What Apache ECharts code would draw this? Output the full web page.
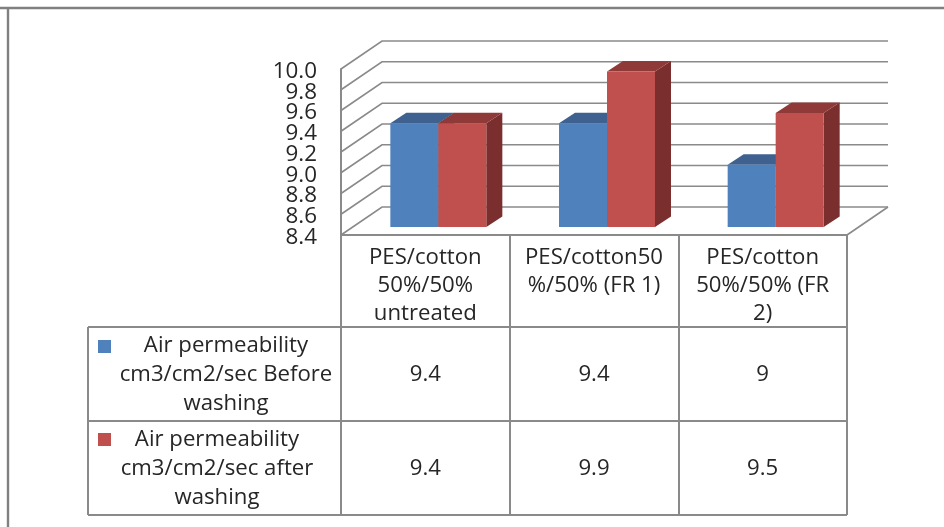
<!DOCTYPE html>
<html><head><meta charset="utf-8">
<style>html,body{margin:0;padding:0;background:#fff}#c{width:944px;height:527px}</style>
<script src="https://cdn.jsdelivr.net/npm/echarts@6/dist/echarts.min.js"></script>
</head><body><div id="c"></div>
<script>
const categories = ['PES/cotton\n50%/50%\nuntreated', 'PES/cotton50\n%/50% (FR 1)', 'PES/cotton\n50%/50% (FR\n2)'];
const seriesBefore = [9.4, 9.4, 9];
const seriesAfter = [9.4, 9.9, 9.5];
const seriesNames = ['Air permeability\ncm3/cm2/sec Before\nwashing', 'Air permeability\ncm3/cm2/sec after\nwashing'];
const yTicks = [8.4, 8.6, 8.8, 9.0, 9.2, 9.4, 9.6, 9.8, 10.0];

const FONT = '"Open Sans"', FS = 22.2, TXT = '#262626', LINE = '#8a8a8a';
const L = 341, R = 847, T = 69, B = 235;
const BACK = [41, -28];
const BAR = {w: 48 / 168.67, ox: 13, oy: -8, dx: 16, dy: -10.5};
const ROWS = [327, 421, 515], LEFT = 88;

function wallItem(params, api) {
  const v = api.value(0);
  const y = api.coord([0, v])[1];
  const xB = L + BACK[0], yB = y + BACK[1];
  const children = [
    {type: 'polyline', shape: {points: [[L, y], [xB, yB], [R + BACK[0], yB]]},
      style: {stroke: LINE, lineWidth: 1.6, fill: null}},
    {type: 'text', x: L - 24, y: y + 2.5, style: {text: v.toFixed(1), font: '22.4px ' + FONT, fill: TXT,
      align: 'right', verticalAlign: 'middle'}}
  ];
  if (params.dataIndex === 0) {
    children.push({type: 'line', shape: {x1: R, y1: y, x2: R + BACK[0], y2: yB},
      style: {stroke: LINE, lineWidth: 1.6}});
  }
  return {type: 'group', children};
}

function barItem(seriesIdx, front, top, side) {
  return function (params, api) {
    const cat = api.value(0), val = api.value(1);
    const band = api.size([1, 0])[0];
    const w = band * BAR.w;
    const c = api.coord([cat, val]), b = api.coord([cat, yTicks[0]]);
    const x0 = c[0] + BAR.ox + (seriesIdx === 0 ? -w : 0), x1 = x0 + w;
    const yT = c[1] + BAR.oy, yB = b[1] + BAR.oy;
    const d = BAR.dx, e = BAR.dy;
    return {type: 'group', children: [
      {type: 'polygon', shape: {points: [[x1, yT], [x1 + d, yT + e], [x1 + d, yB + e], [x1, yB]]}, style: {fill: side}},
      {type: 'polygon', shape: {points: [[x0, yT], [x0 + d, yT + e], [x1 + d, yT + e], [x1, yT]]}, style: {fill: top}},
      {type: 'rect', shape: {x: x0, y: yT, width: w, height: yB - yT}, style: {fill: front}}
    ]};
  };
}

const chart = echarts.init(document.getElementById('c'), null, {renderer: 'canvas'});

const txt = (x, y, text) => ({type: 'text', x, y, silent: true,
  style: {text, font: FS + 'px ' + FONT, fill: TXT, align: 'center', verticalAlign: 'middle', lineHeight: 29}});
const ln = (x1, y1, x2, y2, w, c) => ({type: 'line', silent: true, shape: {x1, y1, x2, y2},
  style: {stroke: c || LINE, lineWidth: w || 2}});

const colW = (R - L) / 3;
const centers = [0, 1, 2].map(i => L + colW * (i + 0.5));
const graphic = [
  ln(0, 8, 944, 8, 2.4, '#808080'), ln(8, 8, 8, 527, 2.4, '#808080'),
  ln(LEFT, ROWS[0], R, ROWS[0]), ln(LEFT, ROWS[1], R, ROWS[1]), ln(LEFT, ROWS[2], R, ROWS[2]),
  ln(LEFT, ROWS[0], LEFT, ROWS[2]),
  {type: 'rect', silent: true, shape: {x: 98, y: 340, width: 13, height: 13}, style: {fill: '#4F81BD'}},
  {type: 'rect', silent: true, shape: {x: 98, y: 433, width: 13, height: 13}, style: {fill: '#C0504D'}},
  txt(226, 375, seriesNames[0]), txt(217, 469, seriesNames[1])
];
centers.forEach((x, i) => {
  graphic.push(txt(x, 375, String(seriesBefore[i])));
  graphic.push(txt(x, 469, String(seriesAfter[i])));
});

chart.setOption({
  animation: false,
  backgroundColor: '#fff',
  grid: {left: L, top: T, width: R - L, height: B - T, containLabel: false},
  xAxis: {type: 'category', data: categories, boundaryGap: true,
    axisLine: {show: true, lineStyle: {color: LINE, width: 2}},
    axisTick: {show: true, length: 280, inside: false, alignWithLabel: false, lineStyle: {color: LINE, width: 2}},
    axisLabel: {interval: 0, margin: 9, verticalAlign: 'top', fontFamily: FONT, fontSize: FS, color: TXT, lineHeight: 28, align: 'center', hideOverlap: false}},
  yAxis: {type: 'value', min: 8.4, max: 10, interval: 0.2,
    axisLine: {show: true, onZero: false, lineStyle: {color: LINE, width: 2}},
    axisTick: {show: false}, splitLine: {show: false},
    axisLabel: {show: false}},
  graphic,
  series: [
    {type: 'custom', clip: false, z: 1, silent: true, renderItem: wallItem, encode: {y: 0},
      coordinateSystem: 'cartesian2d', data: yTicks.map(v => [v])},
    {type: 'custom', clip: false, z: 2, silent: true, name: seriesNames[0],
      renderItem: barItem(0, '#4F81BD', '#3E618F', '#2F4E75'), encode: {x: 0, y: 1},
      data: seriesBefore.map((v, i) => [i, v])},
    {type: 'custom', clip: false, z: 3, silent: true, name: seriesNames[1],
      renderItem: barItem(1, '#C0504D', '#8F3A38', '#7A2E2D'), encode: {x: 0, y: 1},
      data: seriesAfter.map((v, i) => [i, v])}
  ]
});
</script></body></html>
